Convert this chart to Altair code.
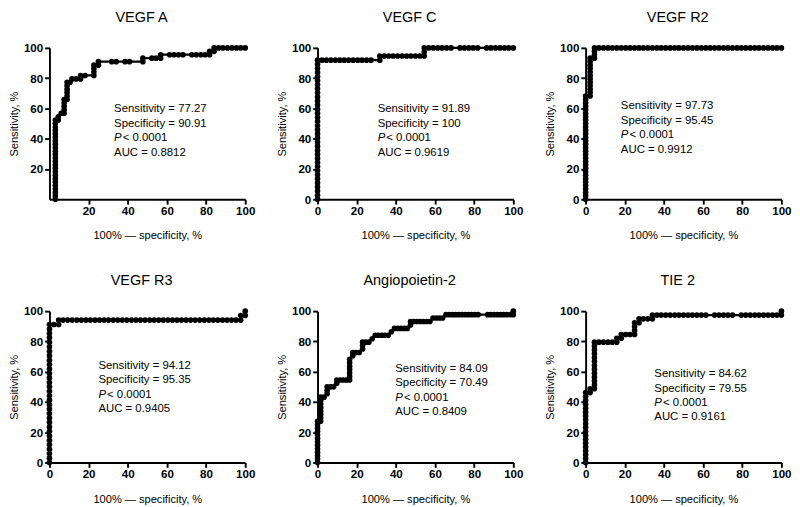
import altair as alt
import pandas as pd

FONT = "Liberation Sans"

titles = ["VEGF A", "VEGF C", "VEGF R2", "VEGF R3", "Angiopoietin-2", "TIE 2"]
sens = ["77.27", "91.89", "97.73", "94.12", "84.09", "84.62"]
spec = ["90.91", "100", "95.45", "95.35", "70.49", "79.55"]
auc = ["0.8812", "0.9619", "0.9912", "0.9405", "0.8409", "0.9161"]

# ROC points (100% - specificity, sensitivity)
vegfa_x = [3, 3, 3, 3, 3, 3, 3, 3, 3, 3, 3, 3, 3, 3, 3, 3, 3, 3, 3, 3, 3, 3, 3, 3,
           4.5, 4.5, 6, 7.5, 7.5, 7.5, 7.5, 7.5, 9, 9, 9, 9, 9, 9, 10.5, 11.5, 13.6, 15.9,
           15.9, 18.2, 22.7, 22.7, 22.7, 22.7, 25, 25, 31.8, 34.1, 38.6, 40.9, 47.7, 47.7,
           52.3, 54.5, 56.8, 56.8, 61.4, 63.6, 65.9, 68.2, 72.7, 75, 77.3, 79.5, 81.8, 81.8,
           84.1, 84.1, 86.4, 88.6, 90.9, 93.2, 95.5, 97.7, 100]
vegfa_y = [0, 2.3, 4.5, 6.8, 9.1, 11.4, 13.6, 15.9, 18.2, 20.5, 22.7, 25, 27.3, 29.5, 31.8,
           34.1, 36.4, 38.6, 40.9, 43.2, 45.5, 47.7, 50, 52.3,
           52.3, 54.5, 56.8, 56.8, 59.1, 61.4, 63.6, 65.9, 65.9, 68.2, 70.5, 72.7, 75, 77.3,
           77.3, 79.5, 79.5, 79.5, 81.8, 81.8, 81.8, 84.1, 86.4, 88.6, 88.6, 90.9, 90.9, 90.9,
           90.9, 90.9, 90.9, 93.2, 93.2, 93.2, 93.2, 95.5, 95.5, 95.5, 95.5, 95.5, 95.5, 95.5,
           95.5, 95.5, 95.5, 97.7, 97.7, 100, 100, 100, 100, 100, 100, 100, 100]

vegfc_x = [0, 0, 0, 0, 0, 0, 0, 0, 0, 0, 0, 0, 0, 0, 0, 0, 0, 0, 0, 0, 0, 0, 0, 0, 0, 0, 0,
           0, 0, 0, 0, 0, 0, 0, 0,
           2.3, 4.5, 6.8, 9.1, 11.4, 13.6, 15.9, 18.2, 20.5, 22.7, 25, 27.3,
           31.8, 31.8,
           34.1, 36.4, 38.6, 40.9, 43.2, 45.5, 47.7, 50, 52.3, 54.5,
           54.5, 54.5,
           56.8, 59.1, 61.4, 63.6, 65.9, 68.2, 72.7, 75, 77.3, 79.5, 81.8, 86.4, 88.6, 90.9,
           93.2, 95.5, 97.7, 100]
vegfc_y = [0, 2.7, 5.4, 8.1, 10.8, 13.5, 16.2, 18.9, 21.6, 24.3, 27, 29.7, 32.4, 35.1, 37.8,
           40.5, 43.2, 45.9, 48.6, 51.4, 54.1, 56.8, 59.5, 62.2, 64.9, 67.6, 70.3, 73, 75.7,
           78.4, 81.1, 83.8, 86.5, 89.2, 91.9,
           91.9, 91.9, 91.9, 91.9, 91.9, 91.9, 91.9, 91.9, 91.9, 91.9, 91.9, 91.9,
           91.9, 94.6,
           94.6, 94.6, 94.6, 94.6, 94.6, 94.6, 94.6, 94.6, 94.6, 94.6,
           97.3, 100,
           100, 100, 100, 100, 100, 100, 100, 100, 100, 100, 100, 100, 100, 100, 100, 100,
           100, 100]

vegfr2_x = [0, 0, 0, 0, 0, 0, 0, 0, 0, 0, 0, 0, 0, 0, 0, 0, 0, 0, 0, 0, 0, 0, 0, 0, 0, 0, 0,
            0, 0, 0, 0,
            2.3, 2.3, 2.3, 2.3, 2.3, 2.3, 2.3, 2.3, 2.3, 2.3, 2.3, 2.3,
            4.5, 4.5, 4.5, 4.5,
            6.8, 9.1, 11.4, 13.6, 15.9, 18.2, 20.5, 22.7, 25, 27.3, 29.5, 31.8, 34.1, 36.4,
            38.6, 40.9, 43.2, 45.5, 47.7, 50, 52.3, 54.5, 56.8, 59.1, 61.4, 63.6, 65.9, 68.2,
            70.5, 72.7, 75, 77.3, 79.5, 81.8, 84.1, 86.4, 88.6, 90.9, 93.2, 95.5, 97.7, 100]
vegfr2_y = [0, 2.3, 4.5, 6.8, 9.1, 11.4, 13.6, 15.9, 18.2, 20.5, 22.7, 25, 27.3, 29.5, 31.8,
            34.1, 36.4, 38.6, 40.9, 43.2, 45.5, 47.7, 50, 52.3, 54.5, 56.8, 59.1, 61.4, 63.6,
            65.9, 68.2,
            68.2, 70.5, 72.7, 75, 77.3, 79.5, 81.8, 84.1, 86.4, 88.6, 90.9, 93.2,
            93.2, 95.5, 97.7, 100,
            100, 100, 100, 100, 100, 100, 100, 100, 100, 100, 100, 100, 100, 100, 100, 100,
            100, 100, 100, 100, 100, 100, 100, 100, 100, 100, 100, 100, 100, 100, 100, 100,
            100, 100, 100, 100, 100, 100, 100, 100, 100, 100]

vegfr3_x = [0, 0, 0, 0, 0, 0, 0, 0, 0, 0, 0, 0, 0, 0, 0, 0, 0, 0, 0, 0, 0, 0, 0, 0, 0, 0, 0,
            0, 0, 0, 0, 0,
            2.3, 4.7, 4.7,
            7, 9.3, 11.6, 14, 16.3, 18.6, 20.9, 23.3, 25.6, 27.9, 30.2, 32.6, 34.9, 37.2,
            39.5, 41.9, 44.2, 46.5, 48.8, 51.2, 53.5, 55.8, 58.1, 60.5, 62.8, 65.1, 67.4,
            69.8, 72.1, 74.4, 76.7, 79.1, 81.4, 83.7, 86, 88.4, 90.7, 93, 95.3, 97.7,
            97.7, 100, 100]
vegfr3_y = [0, 2.9, 5.9, 8.8, 11.8, 14.7, 17.6, 20.6, 23.5, 26.5, 29.4, 32.4, 35.3, 38.2,
            41.2, 44.1, 47.1, 50, 52.9, 55.9, 58.8, 61.8, 64.7, 67.6, 70.6, 73.5, 76.5, 79.4,
            82.4, 85.3, 88.2, 91.2,
            91.2, 91.2, 94.1,
            94.1, 94.1, 94.1, 94.1, 94.1, 94.1, 94.1, 94.1, 94.1, 94.1, 94.1, 94.1, 94.1,
            94.1, 94.1, 94.1, 94.1, 94.1, 94.1, 94.1, 94.1, 94.1, 94.1, 94.1, 94.1, 94.1,
            94.1, 94.1, 94.1, 94.1, 94.1, 94.1, 94.1, 94.1, 94.1, 94.1, 94.1, 94.1, 94.1,
            94.1, 97.1, 97.1, 100]

angio_x = [0, 0, 0, 0, 0, 0, 0, 0, 0, 0, 0, 0, 0,
           1.6, 1.6, 1.6, 1.6, 1.6, 1.6, 1.6, 1.6,
           3.3, 4.9, 4.9, 4.9, 6.6, 8.2, 9.8, 9.8, 11.5, 13.1, 14.8, 16.4,
           16.4, 16.4, 16.4, 16.4, 16.4, 16.4, 18, 18, 19.7, 21.3, 23, 23, 23, 24.6, 26.2,
           27.9, 29.5, 31.1, 32.8, 34.4, 36.1, 37.7, 39.3, 41, 42.6, 44.3, 45.9,
           47.5, 47.5, 49.2, 50.8, 52.5, 54.1, 55.7, 57.4, 59, 60.7, 62.3, 63.9, 65.6,
           67.2, 68.9, 70.5, 72.1, 73.8, 75.4, 77, 78.7, 80.3, 82,
           86.9, 88.5, 90.2, 91.8, 93.4, 95.1, 96.7, 98.4, 100,
           100]
angio_y = [0, 2.3, 4.5, 6.8, 9.1, 11.4, 13.6, 15.9, 18.2, 20.5, 22.7, 25, 27.3,
           27.3, 29.5, 31.8, 34.1, 36.4, 38.6, 40.9, 43.2,
           43.2, 45.5, 47.7, 50, 50, 50, 52.3, 54.5, 54.5, 54.5, 54.5, 54.5,
           56.8, 59.1, 61.4, 63.6, 65.9, 68.2, 70.5, 72.7, 72.7, 72.7, 75, 77.3, 79.5, 79.5,
           79.5,
           81.8, 84.1, 84.1, 84.1, 84.1, 84.1, 86.4, 88.6, 88.6, 88.6, 88.6, 88.6,
           90.9, 93.2, 93.2, 93.2, 93.2, 93.2, 93.2, 93.2, 95.5, 95.5, 95.5, 95.5, 97.7,
           97.7, 97.7, 97.7, 97.7, 97.7, 97.7, 97.7, 97.7, 97.7, 97.7,
           97.7, 97.7, 97.7, 97.7, 97.7, 97.7, 97.7, 97.7, 97.7,
           100]

tie2_x = [0, 0, 0, 0, 0, 0, 0, 0, 0, 0,
          0, 0, 0, 0, 0, 0, 0, 0, 0,
          2.3, 2.3, 4.5, 4.5, 4.5, 4.5, 4.5, 4.5, 4.5, 4.5, 4.5, 4.5, 4.5, 4.5, 4.5,
          6.8, 9.1, 11.4, 13.6, 15.9, 15.9, 18.2, 18.2, 20.5, 22.7, 25, 25, 25, 25, 27.3,
          27.3, 29.5, 31.8, 34.1,
          34.1, 36.4, 38.6, 40.9, 43.2, 45.5, 47.7, 50, 52.3, 54.5,
          56.8, 59.1, 61.4, 65.9, 68.2, 70.5, 72.7, 75, 79.5, 81.8, 84.1, 86.4, 88.6, 90.9,
          93.2, 95.5, 97.7, 100,
          100]
tie2_y = [0, 2.6, 5.1, 7.7, 10.3, 12.8, 15.4, 17.9, 20.5, 23.1,
          25.6, 28.2, 30.8, 33.3, 35.9, 38.5, 41, 43.6, 46.2,
          46.2, 48.7, 48.7, 51.3, 53.8, 56.4, 59, 61.5, 64.1, 66.7, 69.2, 71.8, 74.4, 76.9,
          79.5,
          79.5, 79.5, 79.5, 79.5, 79.5, 82.1, 82.1, 84.6, 84.6, 84.6, 84.6, 87.2, 89.7,
          92.3, 92.3,
          94.9, 94.9, 94.9, 94.9,
          97.4, 97.4, 97.4, 97.4, 97.4, 97.4, 97.4, 97.4, 97.4, 97.4,
          97.4, 97.4, 97.4, 97.4, 97.4, 97.4, 97.4, 97.4, 97.4, 97.4, 97.4, 97.4, 97.4, 97.4,
          97.4, 97.4, 97.4, 97.4,
          100]

xs = [vegfa_x, vegfc_x, vegfr2_x, vegfr3_x, angio_x, tie2_x]
ys = [vegfa_y, vegfc_y, vegfr2_y, vegfr3_y, angio_y, tie2_y]

# anchor of the annotation block (data coordinates of first line)
ann_pos = [(33, 60), (30.7, 60), (18, 62), (25, 64.5), (39.7, 62.6), (35.1, 59)]

LINE_H = 15


def panel(k):
    n = min(len(xs[k]), len(ys[k]))
    df = pd.DataFrame({"x": xs[k][:n], "y": ys[k][:n]})
    df["i"] = list(range(n))
    ticks = [20, 40, 60, 80, 100] if k == 0 else [0, 20, 40, 60, 80, 100]
    xenc = alt.X("x:Q", scale=alt.Scale(domain=[0, 100], nice=False),
                 axis=alt.Axis(values=ticks, title="100% — specificity, %", titlePadding=14))
    yenc = alt.Y("y:Q", scale=alt.Scale(domain=[0, 100], nice=False),
                 axis=alt.Axis(values=ticks, title="Sensitivity, %", titlePadding=4))
    base = alt.Chart(df)
    line = base.mark_line(color="black", strokeWidth=2.4).encode(x=xenc, y=yenc, order="i:Q")
    pts = base.mark_circle(color="black", size=34, opacity=1).encode(x=xenc, y=yenc)
    ax, ay = ann_pos[k]
    adf = pd.DataFrame({"x": [ax], "y": [ay]})

    def txt(s, dy, dx=0, style="normal"):
        return alt.Chart(adf).mark_text(
            text=s, align="left", baseline="middle", dy=dy, dx=dx, font=FONT,
            fontSize=11.8, fontStyle=style, color="black").encode(x=xenc, y=yenc)

    layers = [
        line, pts,
        txt("Sensitivity = " + sens[k], 0),
        txt("Specificity = " + spec[k], LINE_H),
        txt("P", 2 * LINE_H, 0, "italic"),
        txt("< 0.0001", 2 * LINE_H, 9),
        txt("AUC = " + auc[k], 3 * LINE_H),
    ]
    return alt.layer(*layers).properties(
        width=203, height=157,
        title=alt.TitleParams(titles[k], dx=-6))


row1 = alt.hconcat(panel(0), panel(1), panel(2), spacing=21)
row2 = alt.hconcat(panel(3), panel(4), panel(5), spacing=21)

chart = alt.vconcat(row1, row2, spacing=33).properties(
    padding={"left": 0, "top": -7, "right": 0, "bottom": 0}
).configure_view(stroke=None).configure_axis(
    domainColor="black", domainWidth=2, tickColor="black", tickWidth=2, tickSize=5,
    labelFont=FONT, labelFontSize=12, labelFontWeight="bold", labelColor="black",
    labelPadding=2, labelFlush=False, labelOverlap=False,
    titleFont=FONT, titleFontSize=11.5, titleFontWeight="normal", titleColor="black",
    grid=False
).configure_title(
    font=FONT, fontSize=15, fontWeight="normal", color="black", offset=18, anchor="middle"
)

chart.save("out.html", embed_options={"renderer": "svg", "actions": False})
